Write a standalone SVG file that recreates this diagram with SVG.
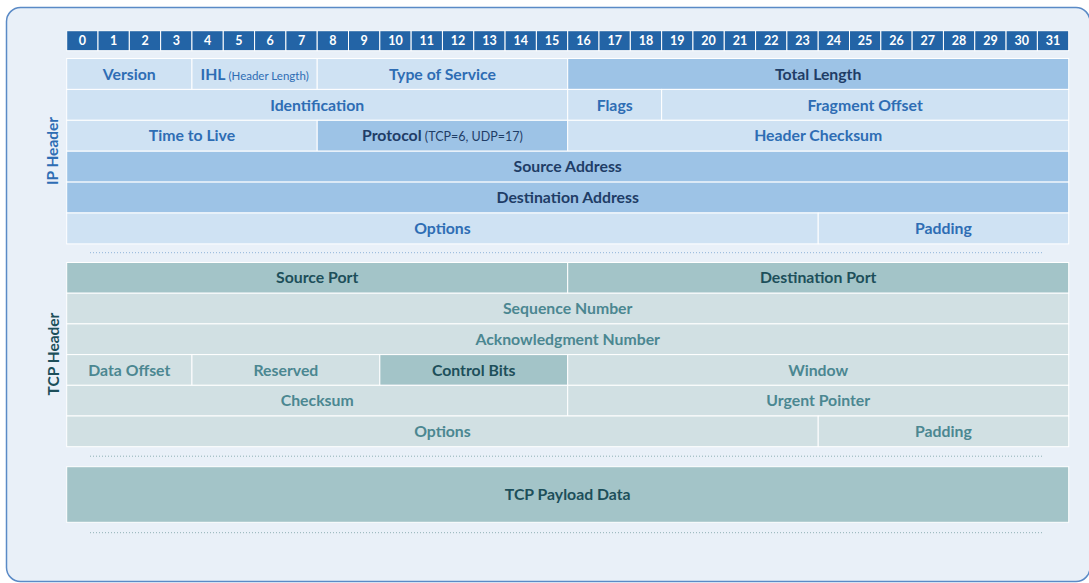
<svg xmlns="http://www.w3.org/2000/svg" width="1089" height="583" viewBox="0 0 1089 583">
  <style>
    text { font-family: Lato, "Open Sans", "Liberation Sans", sans-serif; text-anchor: middle; }
    .bit { font-size: 12.5px; font-weight: 700; fill: #ffffff; }
    .hdrcell { fill: #2364a6; stroke: #ffffff; stroke-width: 1; }
    .ipL { fill: #cfe2f3; stroke: #ffffff; stroke-width: 1; }
    .ipD { fill: #9dc3e6; stroke: #ffffff; stroke-width: 1; }
    .tcpL { fill: #d1e0e3; stroke: #ffffff; stroke-width: 1; }
    .tcpD { fill: #a3c4c8; stroke: #ffffff; stroke-width: 1; }
    .tIpL { font-size: 15.8px; font-weight: 700; fill: #2e6db4; }
    .tIpD { font-size: 15.8px; font-weight: 700; fill: #1f3d66; }
    .tTcpL { font-size: 15.8px; font-weight: 700; fill: #4b8791; }
    .tTcpD { font-size: 15.8px; font-weight: 700; fill: #1d4f5a; }
    .small { font-weight: 400; }
    .side { font-size: 15.5px; font-weight: 700; }
    .dotIp { stroke: #8fb4d9; stroke-width: 1; stroke-dasharray: 1 2; }
    .dotTcp { stroke: #8fb0b5; stroke-width: 1; stroke-dasharray: 1 2; }
  </style>

  <!-- background panel -->
  <rect x="6.5" y="7.5" width="1083.5" height="574" rx="14" ry="14" fill="#e9f0f8" stroke="#5a8ac6" stroke-width="1.5"/>

  <!-- bit ruler 0..31 -->
  <g id="bit-ruler">
    <rect class="hdrcell" x="66.7" y="30.7" width="31.31" height="20"/>
    <rect class="hdrcell" x="98.01" y="30.7" width="31.31" height="20"/>
    <rect class="hdrcell" x="129.33" y="30.7" width="31.31" height="20"/>
    <rect class="hdrcell" x="160.64" y="30.7" width="31.31" height="20"/>
    <rect class="hdrcell" x="191.95" y="30.7" width="31.31" height="20"/>
    <rect class="hdrcell" x="223.26" y="30.7" width="31.31" height="20"/>
    <rect class="hdrcell" x="254.58" y="30.7" width="31.31" height="20"/>
    <rect class="hdrcell" x="285.89" y="30.7" width="31.31" height="20"/>
    <rect class="hdrcell" x="317.2" y="30.7" width="31.31" height="20"/>
    <rect class="hdrcell" x="348.51" y="30.7" width="31.31" height="20"/>
    <rect class="hdrcell" x="379.83" y="30.7" width="31.31" height="20"/>
    <rect class="hdrcell" x="411.14" y="30.7" width="31.31" height="20"/>
    <rect class="hdrcell" x="442.45" y="30.7" width="31.31" height="20"/>
    <rect class="hdrcell" x="473.76" y="30.7" width="31.31" height="20"/>
    <rect class="hdrcell" x="505.08" y="30.7" width="31.31" height="20"/>
    <rect class="hdrcell" x="536.39" y="30.7" width="31.31" height="20"/>
    <rect class="hdrcell" x="567.7" y="30.7" width="31.31" height="20"/>
    <rect class="hdrcell" x="599.01" y="30.7" width="31.31" height="20"/>
    <rect class="hdrcell" x="630.33" y="30.7" width="31.31" height="20"/>
    <rect class="hdrcell" x="661.64" y="30.7" width="31.31" height="20"/>
    <rect class="hdrcell" x="692.95" y="30.7" width="31.31" height="20"/>
    <rect class="hdrcell" x="724.26" y="30.7" width="31.31" height="20"/>
    <rect class="hdrcell" x="755.58" y="30.7" width="31.31" height="20"/>
    <rect class="hdrcell" x="786.89" y="30.7" width="31.31" height="20"/>
    <rect class="hdrcell" x="818.2" y="30.7" width="31.31" height="20"/>
    <rect class="hdrcell" x="849.51" y="30.7" width="31.31" height="20"/>
    <rect class="hdrcell" x="880.83" y="30.7" width="31.31" height="20"/>
    <rect class="hdrcell" x="912.14" y="30.7" width="31.31" height="20"/>
    <rect class="hdrcell" x="943.45" y="30.7" width="31.31" height="20"/>
    <rect class="hdrcell" x="974.76" y="30.7" width="31.31" height="20"/>
    <rect class="hdrcell" x="1006.08" y="30.7" width="31.31" height="20"/>
    <rect class="hdrcell" x="1037.39" y="30.7" width="31.31" height="20"/>
    <text class="bit" x="82.4" y="45.4">0</text>
    <text class="bit" x="113.7" y="45.4">1</text>
    <text class="bit" x="145.0" y="45.4">2</text>
    <text class="bit" x="176.3" y="45.4">3</text>
    <text class="bit" x="207.6" y="45.4">4</text>
    <text class="bit" x="238.9" y="45.4">5</text>
    <text class="bit" x="270.2" y="45.4">6</text>
    <text class="bit" x="301.5" y="45.4">7</text>
    <text class="bit" x="332.9" y="45.4">8</text>
    <text class="bit" x="364.2" y="45.4">9</text>
    <text class="bit" x="395.5" y="45.4">10</text>
    <text class="bit" x="426.8" y="45.4">11</text>
    <text class="bit" x="458.1" y="45.4">12</text>
    <text class="bit" x="489.4" y="45.4">13</text>
    <text class="bit" x="520.7" y="45.4">14</text>
    <text class="bit" x="552.0" y="45.4">15</text>
    <text class="bit" x="583.4" y="45.4">16</text>
    <text class="bit" x="614.7" y="45.4">17</text>
    <text class="bit" x="646.0" y="45.4">18</text>
    <text class="bit" x="677.3" y="45.4">19</text>
    <text class="bit" x="708.6" y="45.4">20</text>
    <text class="bit" x="739.9" y="45.4">21</text>
    <text class="bit" x="771.2" y="45.4">22</text>
    <text class="bit" x="802.5" y="45.4">23</text>
    <text class="bit" x="833.8" y="45.4">24</text>
    <text class="bit" x="865.1" y="45.4">25</text>
    <text class="bit" x="896.4" y="45.4">26</text>
    <text class="bit" x="927.8" y="45.4">27</text>
    <text class="bit" x="959.1" y="45.4">28</text>
    <text class="bit" x="990.4" y="45.4">29</text>
    <text class="bit" x="1021.7" y="45.4">30</text>
    <text class="bit" x="1053.0" y="45.4">31</text>
  </g>

  <!-- IP header -->
  <g id="ip-header-label">
    <text class="side" fill="#2e6db4" transform="translate(58,151) rotate(-90)">IP Header</text>
  </g>

  <g id="ip-version">
    <rect class="ipL" x="66.7" y="58.5" width="125.25" height="30.9"/>
    <text class="tIpL" x="129.3" y="79.6">Version</text>
  </g>
  <g id="ip-ihl">
    <rect class="ipL" x="191.95" y="58.5" width="125.25" height="30.9"/>
    <text class="tIpL" x="254.6" y="79.6">IHL<tspan class="small" font-size="11.5px"> (Header Length)</tspan></text>
  </g>
  <g id="ip-tos">
    <rect class="ipL" x="317.2" y="58.5" width="250.5" height="30.9"/>
    <text class="tIpL" x="442.45" y="79.6">Type of Service</text>
  </g>
  <g id="ip-total-length">
    <rect class="ipD" x="567.7" y="58.5" width="501" height="30.9"/>
    <text class="tIpD" x="818.2" y="79.6">Total Length</text>
  </g>

  <g id="ip-identification">
    <rect class="ipL" x="66.7" y="89.4" width="501" height="30.9"/>
    <text class="tIpL" x="317.2" y="110.5">Identification</text>
  </g>
  <g id="ip-flags">
    <rect class="ipL" x="567.7" y="89.4" width="93.94" height="30.9"/>
    <text class="tIpL" x="614.65" y="110.5">Flags</text>
  </g>
  <g id="ip-fragment-offset">
    <rect class="ipL" x="661.64" y="89.4" width="407.06" height="30.9"/>
    <text class="tIpL" x="865.15" y="110.5">Fragment Offset</text>
  </g>

  <g id="ip-ttl">
    <rect class="ipL" x="66.7" y="120.3" width="250.5" height="30.9"/>
    <text class="tIpL" x="191.95" y="141.4">Time to Live</text>
  </g>
  <g id="ip-protocol">
    <rect class="ipD" x="317.2" y="120.3" width="250.5" height="30.9"/>
    <text class="tIpD" x="442.45" y="141.4">Protocol<tspan class="small" font-size="12.5px"> (TCP=6, UDP=17)</tspan></text>
  </g>
  <g id="ip-header-checksum">
    <rect class="ipL" x="567.7" y="120.3" width="501" height="30.9"/>
    <text class="tIpL" x="818.2" y="141.4">Header Checksum</text>
  </g>

  <g id="ip-source-address">
    <rect class="ipD" x="66.7" y="151.2" width="1002" height="30.9"/>
    <text class="tIpD" x="567.7" y="172.3">Source Address</text>
  </g>
  <g id="ip-destination-address">
    <rect class="ipD" x="66.7" y="182.1" width="1002" height="30.9"/>
    <text class="tIpD" x="567.7" y="203.2">Destination Address</text>
  </g>

  <g id="ip-options">
    <rect class="ipL" x="66.7" y="213" width="751.5" height="30.9"/>
    <text class="tIpL" x="442.45" y="234.1">Options</text>
  </g>
  <g id="ip-padding">
    <rect class="ipL" x="818.2" y="213" width="250.5" height="30.9"/>
    <text class="tIpL" x="943.45" y="234.1">Padding</text>
  </g>

  <!-- TCP header -->
  <g id="tcp-header-label">
    <text class="side" fill="#1d4f5a" transform="translate(58.5,354) rotate(-90)">TCP Header</text>
  </g>

  <g id="tcp-source-port">
    <rect class="tcpD" x="66.7" y="262.5" width="501" height="30.7"/>
    <text class="tTcpD" x="317.2" y="283.4">Source Port</text>
  </g>
  <g id="tcp-destination-port">
    <rect class="tcpD" x="567.7" y="262.5" width="501" height="30.7"/>
    <text class="tTcpD" x="818.2" y="283.4">Destination Port</text>
  </g>

  <g id="tcp-sequence-number">
    <rect class="tcpL" x="66.7" y="293.2" width="1002" height="30.7"/>
    <text class="tTcpL" x="567.7" y="314.1">Sequence Number</text>
  </g>
  <g id="tcp-acknowledgment-number">
    <rect class="tcpL" x="66.7" y="323.9" width="1002" height="30.7"/>
    <text class="tTcpL" x="567.7" y="344.8">Acknowledgment Number</text>
  </g>

  <g id="tcp-data-offset">
    <rect class="tcpL" x="66.7" y="354.6" width="125.25" height="30.7"/>
    <text class="tTcpL" x="129.3" y="375.5">Data Offset</text>
  </g>
  <g id="tcp-reserved">
    <rect class="tcpL" x="191.95" y="354.6" width="187.88" height="30.7"/>
    <text class="tTcpL" x="285.9" y="375.5">Reserved</text>
  </g>
  <g id="tcp-control-bits">
    <rect class="tcpD" x="379.83" y="354.6" width="187.87" height="30.7"/>
    <text class="tTcpD" x="473.75" y="375.5">Control Bits</text>
  </g>
  <g id="tcp-window">
    <rect class="tcpL" x="567.7" y="354.6" width="501" height="30.7"/>
    <text class="tTcpL" x="818.2" y="375.5">Window</text>
  </g>

  <g id="tcp-checksum">
    <rect class="tcpL" x="66.7" y="385.3" width="501" height="30.7"/>
    <text class="tTcpL" x="317.2" y="406.2">Checksum</text>
  </g>
  <g id="tcp-urgent-pointer">
    <rect class="tcpL" x="567.7" y="385.3" width="501" height="30.7"/>
    <text class="tTcpL" x="818.2" y="406.2">Urgent Pointer</text>
  </g>

  <g id="tcp-options">
    <rect class="tcpL" x="66.7" y="416" width="751.5" height="30.7"/>
    <text class="tTcpL" x="442.45" y="436.9">Options</text>
  </g>
  <g id="tcp-padding">
    <rect class="tcpL" x="818.2" y="416" width="250.5" height="30.7"/>
    <text class="tTcpL" x="943.45" y="436.9">Padding</text>
  </g>

  <!-- payload -->
  <g id="tcp-payload">
    <rect class="tcpD" x="66.7" y="466.7" width="1002" height="55.6"/>
    <text class="tTcpD" x="567.7" y="500.2">TCP Payload Data</text>
  </g>

  <!-- dotted separators -->
  <g id="separators">
    <line class="dotIp" x1="90" y1="252.7" x2="1043" y2="252.7"/>
    <line class="dotTcp" x1="90" y1="456.2" x2="1043" y2="456.2"/>
    <line class="dotTcp" x1="90" y1="532.7" x2="1043" y2="532.7"/>
  </g>
</svg>
